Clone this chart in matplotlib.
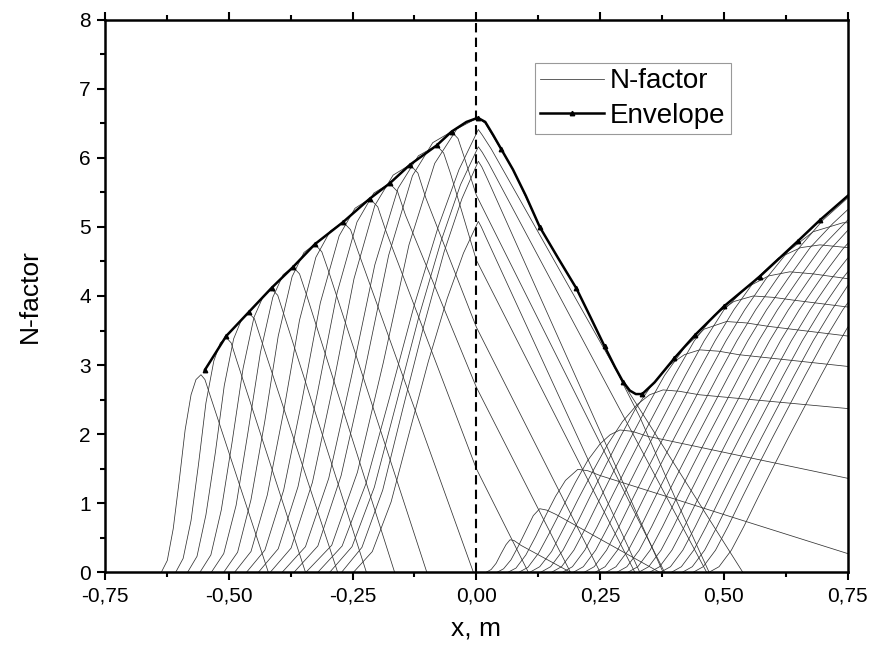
import matplotlib.pyplot as plt
from matplotlib.ticker import MultipleLocator, FuncFormatter

plt.rcParams['font.family'] = ['Liberation Sans', 'DejaVu Sans']

# N-factor curves growing upstream of the junction, each as (x, N) points
lead_curves = [
    [(-0.636, 0), (-0.624, 0.17), (-0.612, 0.63), (-0.600, 1.32), (-0.588, 2.06), (-0.576, 2.57), (-0.566, 2.79), (-0.556, 2.86),
     (-0.548, 2.79), (-0.538, 2.57), (-0.42, 0)],
    [(-0.607, 0), (-0.592, 0.20), (-0.576, 0.75), (-0.561, 1.56), (-0.546, 2.45), (-0.530, 3.06), (-0.517, 3.32), (-0.505, 3.40),
     (-0.495, 3.32), (-0.484, 3.07), (-0.345, 0)],
    [(-0.583, 0), (-0.564, 0.23), (-0.546, 0.83), (-0.527, 1.73), (-0.509, 2.70), (-0.490, 3.38), (-0.474, 3.66), (-0.459, 3.75),
     (-0.448, 3.67), (-0.436, 3.40), (-0.28, 0)],
    [(-0.558, 0), (-0.536, 0.25), (-0.515, 0.90), (-0.493, 1.89), (-0.471, 2.95), (-0.449, 3.69), (-0.430, 4.00), (-0.413, 4.10),
     (-0.401, 4.01), (-0.388, 3.72), (-0.222, 0)],
    [(-0.535, 0), (-0.510, 0.27), (-0.485, 0.97), (-0.461, 2.03), (-0.436, 3.18), (-0.411, 3.98), (-0.390, 4.31), (-0.370, 4.42),
     (-0.357, 4.32), (-0.343, 4.02), (-0.165, 0)],
    [(-0.510, 0), (-0.482, 0.29), (-0.455, 1.05), (-0.427, 2.19), (-0.400, 3.42), (-0.372, 4.28), (-0.348, 4.63), (-0.326, 4.75),
     (-0.312, 4.64), (-0.297, 4.33), (-0.10, 0)],
    [(-0.488, 0), (-0.455, 0.30), (-0.422, 1.12), (-0.389, 2.33), (-0.357, 3.65), (-0.324, 4.56), (-0.295, 4.94), (-0.269, 5.07),
     (-0.254, 4.96), (-0.238, 4.63), (-0.006, 0)],
    [(-0.464, 0), (-0.427, 0.32), (-0.389, 1.19), (-0.352, 2.49), (-0.315, 3.90), (-0.277, 4.87), (-0.245, 5.27), (-0.215, 5.41),
     (-0.199, 5.29), (-0.183, 4.95), (0.0, 1.5), (0.105, 0)],
    [(-0.440, 0), (-0.400, 0.34), (-0.360, 1.24), (-0.321, 2.59), (-0.281, 4.05), (-0.241, 5.07), (-0.207, 5.49), (-0.175, 5.63),
     (-0.159, 5.51), (-0.143, 5.17), (0.0, 2.68), (0.19, 0)],
    [(-0.416, 0), (-0.374, 0.35), (-0.331, 1.30), (-0.289, 2.71), (-0.247, 4.25), (-0.205, 5.31), (-0.168, 5.75), (-0.134, 5.90),
     (-0.118, 5.78), (-0.102, 5.42), (0.0, 3.55), (0.25, 0)],
    [(-0.392, 0), (-0.345, 0.37), (-0.298, 1.36), (-0.252, 2.84), (-0.205, 4.45), (-0.158, 5.56), (-0.117, 6.03), (-0.080, 6.18),
     (-0.066, 6.07), (-0.052, 5.77), (0.0, 4.52), (0.32, 0)],
    [(-0.368, 0), (-0.320, 0.38), (-0.273, 1.40), (-0.225, 2.93), (-0.177, 4.59), (-0.129, 5.74), (-0.088, 6.22), (-0.050, 6.38),
     (-0.037, 6.28), (-0.024, 6.00), (0.0, 5.46), (0.38, 0)],
    [(-0.344, 0), (-0.292, 0.39), (-0.240, 1.45), (-0.188, 3.03), (-0.136, 4.74), (-0.084, 5.92), (-0.039, 6.42), (0.003, 6.58),
     (0.018, 6.50), (0.034, 6.31), (0.074, 5.83), (0.128, 5.0), (0.202, 4.11), (0.259, 3.27), (0.296, 2.73), (0.33, 2.25),
     (0.40, 1.1), (0.47, 0)],
]

# curves peaking right at the junction x = 0
node_curves = [
    [(-0.320, 0), (-0.271, 0.38), (-0.223, 1.28), (-0.174, 2.56), (-0.126, 3.85), (-0.077, 5.00), (-0.035, 5.83), (0.004, 6.41),
     (0.012, 6.33), (0.030, 6.13), (0.30, 2.7), (0.538, 0)],
    [(-0.296, 0), (-0.251, 0.37), (-0.206, 1.23), (-0.161, 2.46), (-0.116, 3.70), (-0.071, 4.80), (-0.032, 5.61), (0.004, 6.16),
     (0.012, 6.08), (0.025, 5.92), (0.465, 0)],
    [(-0.272, 0), (-0.231, 0.36), (-0.189, 1.19), (-0.148, 2.38), (-0.106, 3.57), (-0.065, 4.64), (-0.029, 5.41), (0.004, 5.95),
     (0.011, 5.87), (0.022, 5.70), (0.377, 0)],
    [(-0.248, 0), (-0.210, 0.30), (-0.172, 1.02), (-0.135, 2.03), (-0.097, 3.05), (-0.059, 3.96), (-0.026, 4.62), (0.004, 5.08),
     (0.010, 5.00), (0.020, 4.84), (0.33, 0)],
]

# curves growing downstream of the junction
aft_curves = [
    [(0.02, 0), (0.03, 0.04), (0.04, 0.13), (0.05, 0.27), (0.06, 0.40), (0.068, 0.47), (0.076, 0.46), (0.09, 0.39), (0.19, 0)],
    [(0.042, 0), (0.055, 0.05), (0.07, 0.18), (0.085, 0.38), (0.10, 0.60), (0.115, 0.82), (0.128, 0.92), (0.142, 0.90),
     (0.16, 0.84), (0.37, 0)],
    [(0.064, 0), (0.08, 0.06), (0.10, 0.25), (0.12, 0.52), (0.14, 0.82), (0.16, 1.10), (0.18, 1.33), (0.205, 1.49),
     (0.225, 1.47), (0.25, 1.40), (0.75, 0.27)],
    [(0.086, 0), (0.104, 0.07), (0.126, 0.28), (0.15, 0.60), (0.175, 0.95), (0.20, 1.30), (0.225, 1.62), (0.25, 1.86),
     (0.27, 1.99), (0.29, 2.06), (0.315, 2.04), (0.345, 1.97), (0.75, 1.36)],
    [(0.108, 0), (0.128, 0.08), (0.152, 0.30), (0.178, 0.66), (0.205, 1.05), (0.235, 1.46), (0.265, 1.85), (0.295, 2.18),
     (0.325, 2.43), (0.35, 2.57), (0.377, 2.64), (0.41, 2.62), (0.45, 2.57), (0.75, 2.37)],
    [(0.13, 0), (0.15, 0.08), (0.175, 0.32), (0.20, 0.66), (0.23, 1.10), (0.26, 1.53), (0.29, 1.95), (0.32, 2.35),
     (0.355, 2.72), (0.39, 3.00), (0.42, 3.15), (0.451, 3.22), (0.49, 3.20), (0.53, 3.15), (0.75, 2.98)],
    [(0.152, 0), (0.172, 0.08), (0.197, 0.32), (0.222, 0.66), (0.252, 1.10), (0.282, 1.53), (0.312, 1.95), (0.345, 2.40),
     (0.38, 2.85), (0.42, 3.25), (0.46, 3.52), (0.505, 3.63), (0.545, 3.61), (0.59, 3.56), (0.75, 3.42)],
    [(0.174, 0), (0.194, 0.08), (0.219, 0.32), (0.244, 0.66), (0.274, 1.10), (0.304, 1.53), (0.334, 1.95), (0.367, 2.40),
     (0.40, 2.85), (0.44, 3.35), (0.48, 3.72), (0.52, 3.92), (0.559, 4.00), (0.60, 3.98), (0.64, 3.94), (0.75, 3.84)],
    [(0.196, 0), (0.216, 0.08), (0.241, 0.32), (0.266, 0.66), (0.296, 1.10), (0.326, 1.53), (0.356, 1.95), (0.389, 2.40),
     (0.422, 2.85), (0.46, 3.35), (0.50, 3.80), (0.545, 4.12), (0.59, 4.29), (0.633, 4.35), (0.68, 4.32), (0.75, 4.25)],
    [(0.218, 0), (0.238, 0.08), (0.263, 0.32), (0.288, 0.66), (0.318, 1.10), (0.348, 1.53), (0.378, 1.95), (0.411, 2.40),
     (0.444, 2.85), (0.482, 3.35), (0.52, 3.80), (0.565, 4.25), (0.61, 4.55), (0.655, 4.70), (0.694, 4.74), (0.75, 4.70)],
    [(0.24, 0), (0.26, 0.08), (0.285, 0.32), (0.31, 0.66), (0.34, 1.10), (0.37, 1.53), (0.40, 1.95), (0.433, 2.40),
     (0.466, 2.85), (0.504, 3.35), (0.542, 3.80), (0.585, 4.25), (0.63, 4.65), (0.68, 4.93), (0.74, 5.06), (0.75, 5.06)],
    [(0.262, 0), (0.282, 0.08), (0.307, 0.32), (0.332, 0.66), (0.362, 1.10), (0.392, 1.53), (0.422, 1.95), (0.455, 2.40),
     (0.488, 2.85), (0.526, 3.35), (0.564, 3.80), (0.607, 4.25), (0.652, 4.70), (0.70, 5.10), (0.75, 5.42)],
    [(0.284, 0), (0.304, 0.08), (0.329, 0.32), (0.354, 0.66), (0.384, 1.10), (0.414, 1.53), (0.444, 1.95), (0.477, 2.40),
     (0.51, 2.85), (0.548, 3.35), (0.586, 3.80), (0.629, 4.25), (0.674, 4.70), (0.72, 5.05), (0.75, 5.25)],
    [(0.306, 0), (0.326, 0.08), (0.351, 0.32), (0.376, 0.66), (0.406, 1.10), (0.436, 1.53), (0.466, 1.95), (0.499, 2.40),
     (0.532, 2.85), (0.57, 3.35), (0.608, 3.80), (0.651, 4.25), (0.696, 4.70), (0.75, 5.10)],
    [(0.328, 0), (0.348, 0.08), (0.373, 0.32), (0.398, 0.66), (0.428, 1.10), (0.458, 1.53), (0.488, 1.95), (0.521, 2.40),
     (0.554, 2.85), (0.592, 3.35), (0.63, 3.80), (0.673, 4.25), (0.718, 4.70), (0.75, 4.95)],
    [(0.35, 0), (0.37, 0.08), (0.395, 0.32), (0.42, 0.66), (0.45, 1.10), (0.48, 1.53), (0.51, 1.95), (0.543, 2.40),
     (0.576, 2.85), (0.614, 3.35), (0.652, 3.80), (0.695, 4.25), (0.74, 4.68), (0.75, 4.76)],
    [(0.372, 0), (0.392, 0.08), (0.417, 0.32), (0.442, 0.66), (0.472, 1.10), (0.502, 1.53), (0.532, 1.95), (0.565, 2.40),
     (0.598, 2.85), (0.636, 3.35), (0.674, 3.80), (0.717, 4.25), (0.75, 4.55)],
    [(0.394, 0), (0.414, 0.08), (0.439, 0.32), (0.464, 0.66), (0.494, 1.10), (0.524, 1.53), (0.554, 1.95), (0.587, 2.40),
     (0.62, 2.85), (0.658, 3.35), (0.696, 3.80), (0.739, 4.25), (0.75, 4.35)],
    [(0.416, 0), (0.436, 0.08), (0.461, 0.32), (0.486, 0.66), (0.516, 1.10), (0.546, 1.53), (0.576, 1.95), (0.609, 2.40),
     (0.642, 2.85), (0.68, 3.35), (0.718, 3.80), (0.75, 4.15)],
    [(0.438, 0), (0.458, 0.08), (0.483, 0.32), (0.508, 0.66), (0.538, 1.10), (0.568, 1.53), (0.598, 1.95), (0.631, 2.40),
     (0.664, 2.85), (0.702, 3.35), (0.74, 3.80), (0.75, 3.90)],
    [(0.47, 0), (0.49, 0.08), (0.515, 0.32), (0.54, 0.66), (0.57, 1.10), (0.60, 1.53), (0.63, 1.95), (0.663, 2.40),
     (0.696, 2.85), (0.734, 3.35), (0.75, 3.55)],
]

# envelope of all curves
env_x = [-0.548, -0.505, -0.459, -0.413, -0.37, -0.326, -0.269, -0.215, -0.175, -0.134, -0.08, -0.05, -0.02,
         0.003, 0.018, 0.034, 0.05, 0.074, 0.10, 0.128, 0.165, 0.202, 0.23, 0.259, 0.28, 0.296, 0.31, 0.322,
         0.335, 0.36, 0.40, 0.441, 0.50, 0.572, 0.65, 0.694, 0.75]
env_n = [2.93, 3.42, 3.77, 4.12, 4.42, 4.75, 5.07, 5.41, 5.63, 5.90, 6.18, 6.38, 6.52,
         6.58, 6.52, 6.33, 6.13, 5.83, 5.45, 5.0, 4.55, 4.11, 3.70, 3.27, 2.97, 2.76, 2.63, 2.58,
         2.58, 2.75, 3.10, 3.43, 3.85, 4.28, 4.80, 5.10, 5.45]
env_marks = [0, 1, 2, 3, 4, 5, 6, 7, 8, 9, 10, 11, 13, 16, 19, 21, 23, 25, 28, 30, 31, 32, 33, 34, 35]

fig = plt.figure(figsize=(8.74, 6.57), dpi=100)
ax = fig.add_axes([0.120, 0.129, 0.850, 0.841])

first = True
for curve in lead_curves + node_curves + aft_curves:
    xs = [p[0] for p in curve]
    ns = [p[1] for p in curve]
    ax.plot(xs, ns, color='#333333', lw=0.55, label='N-factor' if first else None)
    first = False

ax.plot(env_x, env_n, color='black', lw=1.8, marker='^', markersize=3.2, markevery=env_marks, label='Envelope')
ax.axvline(0, color='black', lw=1.5, ls=(0, (4.5, 2.5)))

ax.set_xlim(-0.75, 0.75)
ax.set_ylim(0, 8)
ax.xaxis.set_major_locator(MultipleLocator(0.25))
ax.xaxis.set_minor_locator(MultipleLocator(0.125))
ax.yaxis.set_major_locator(MultipleLocator(1))
ax.yaxis.set_minor_locator(MultipleLocator(0.5))
ax.xaxis.set_major_formatter(FuncFormatter(lambda v, pos: f'{v:.2f}'.replace('.', ',')))
ax.tick_params(which='both', direction='out', width=1.5, labelsize=15, top=True, right=False)
ax.tick_params(which='major', length=6, pad=4)
ax.tick_params(which='minor', length=3.5)
for sp in ax.spines.values():
    sp.set_linewidth(1.8)

ax.set_xlabel('x, m', fontsize=19, labelpad=8)
ax.set_ylabel('N-factor', fontsize=19, labelpad=27)

leg = ax.legend(loc='upper right', bbox_to_anchor=(0.8425, 0.922), fontsize=20, handlelength=2.3,
                fancybox=False, framealpha=1, edgecolor='#999999', borderpad=0.2, labelspacing=0.3,
                handletextpad=0.2, borderaxespad=0)
leg.get_frame().set_linewidth(0.8)

fig.savefig('out.png', dpi=100)
